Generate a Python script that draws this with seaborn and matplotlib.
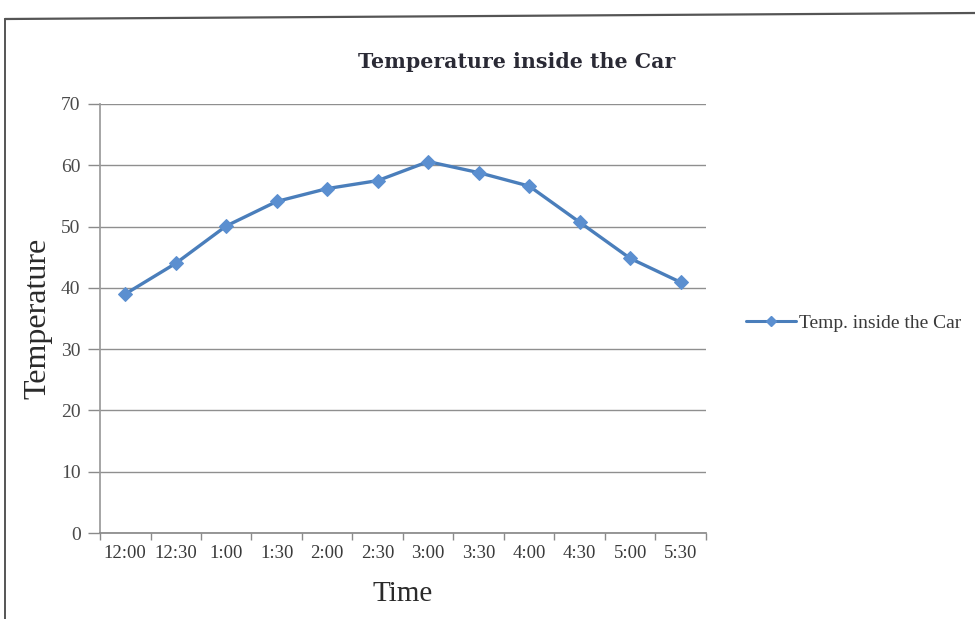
import matplotlib
matplotlib.use("Agg")
import matplotlib.pyplot as plt
import seaborn as sns
import pandas as pd
from matplotlib.lines import Line2D

times = ["12:00", "12:30", "1:00", "1:30", "2:00", "2:30",
         "3:00", "3:30", "4:00", "4:30", "5:00", "5:30"]
temps = [39.0, 44.0, 50.1, 54.1, 56.2, 57.5, 60.6, 58.8, 56.6, 50.7, 44.8, 40.9]
y_ticks = [0, 10, 20, 30, 40, 50, 60, 70]

sns.set_theme(style="white")
plt.rcParams["font.family"] = ["Liberation Serif", "DejaVu Serif"]

df = pd.DataFrame({"Time": times, "Temperature": temps})
df["pos"] = range(len(times))

W, H = 975, 619
fig = plt.figure(figsize=(W / 100, H / 100), dpi=100)
ax = fig.add_axes([100 / W, 1 - 533 / H, 606 / W, (533 - 104) / H])

line_color = "#4a7ebb"
sns.lineplot(data=df, x="pos", y="Temperature", ax=ax, color=line_color,
             linewidth=2.4, marker="D", markersize=7.5,
             markerfacecolor="#5b8fd0", markeredgecolor="#5b8fd0",
             label="Temp. inside the Car", legend=False)

ax.set_xlim(-0.5, len(times) - 0.5)
ax.set_ylim(0, 70)
ax.set_yticks(y_ticks)
ax.set_yticklabels([str(v) for v in y_ticks], fontsize=14)
ax.set_xticks(range(len(times)))
ax.set_xticklabels(times, fontsize=13.5)
ax.tick_params(axis="x", length=0, pad=9, labelcolor="#3a3a3a")
ax.tick_params(axis="y", length=9, width=1.0, color="#8a8a8a", labelcolor="#4a4a4a",
               pad=5, direction="out", left=True)

# small tick marks at the category boundaries
ax.set_xticks([i - 0.5 for i in range(len(times) + 1)], minor=True)
ax.tick_params(axis="x", which="minor", length=5, color="#8a8a8a", direction="out", bottom=True)

ax.yaxis.grid(True, color="#8f8f8f", linewidth=1.0)
ax.xaxis.grid(False)
for side in ["top", "right"]:
    ax.spines[side].set_visible(False)
ax.spines["left"].set_color("#9a9a9a")
ax.spines["bottom"].set_color("#8a8a8a")

ax.set_xlabel("Time", fontsize=21, color="#2a2a2a", labelpad=13)
ax.set_ylabel("Temperature", fontsize=23, color="#2a2a2a", labelpad=6)
ax.set_title("Temperature inside the Car", fontsize=14.8, fontweight="bold",
             family=["DejaVu Serif"], color="#2a2a35", pad=26, x=0.688)

leg = fig.legend(handles=[Line2D([0], [0], color=line_color, linewidth=2.2, marker="D",
                                 markersize=5, markerfacecolor="#5b8fd0",
                                 markeredgecolor="#5b8fd0")],
                 labels=["Temp. inside the Car"],
                 loc="center left", bbox_to_anchor=(728 / W, 1 - 323 / H), frameon=False,
                 fontsize=14, handlelength=2.6, handletextpad=0.15)
for t in leg.get_texts():
    t.set_color("#3a3a3a")

# outer chart frame (top edge and left edge)
fig.add_artist(Line2D([5 / W, 1.0], [1 - 19 / H, 1 - 13 / H], transform=fig.transFigure,
                      color="#555555", linewidth=1.6))
fig.add_artist(Line2D([5 / W, 5 / W], [1 - 19 / H, 0.0], transform=fig.transFigure,
                      color="#555555", linewidth=1.4))

fig.savefig("out.png", dpi=100)
